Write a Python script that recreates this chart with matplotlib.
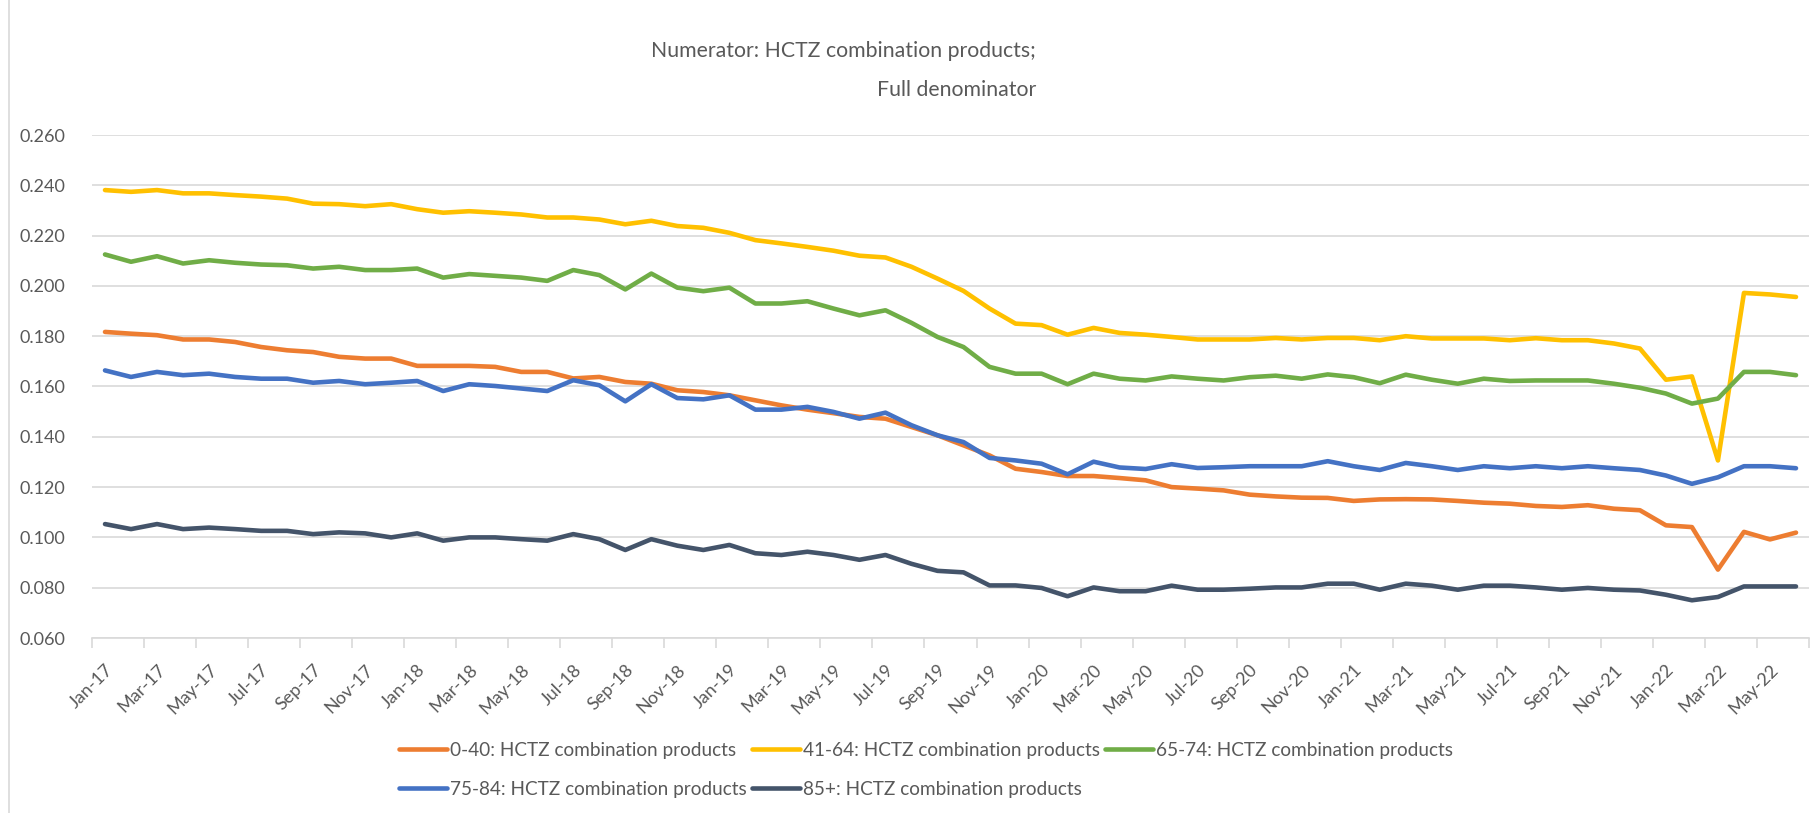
import numpy as np
import matplotlib
matplotlib.use("Agg")
import matplotlib.pyplot as plt
from matplotlib.lines import Line2D

plt.rcParams['font.family'] = ['Lato', 'DejaVu Sans']

# months Jan-17 .. Jun-22
months = ['Jan-17', 'Feb-17', 'Mar-17', 'Apr-17', 'May-17', 'Jun-17', 'Jul-17', 'Aug-17',
          'Sep-17', 'Oct-17', 'Nov-17', 'Dec-17',
          'Jan-18', 'Feb-18', 'Mar-18', 'Apr-18', 'May-18', 'Jun-18', 'Jul-18', 'Aug-18',
          'Sep-18', 'Oct-18', 'Nov-18', 'Dec-18',
          'Jan-19', 'Feb-19', 'Mar-19', 'Apr-19', 'May-19', 'Jun-19', 'Jul-19', 'Aug-19',
          'Sep-19', 'Oct-19', 'Nov-19', 'Dec-19',
          'Jan-20', 'Feb-20', 'Mar-20', 'Apr-20', 'May-20', 'Jun-20', 'Jul-20', 'Aug-20',
          'Sep-20', 'Oct-20', 'Nov-20', 'Dec-20',
          'Jan-21', 'Feb-21', 'Mar-21', 'Apr-21', 'May-21', 'Jun-21', 'Jul-21', 'Aug-21',
          'Sep-21', 'Oct-21', 'Nov-21', 'Dec-21',
          'Jan-22', 'Feb-22', 'Mar-22', 'Apr-22', 'May-22', 'Jun-22']

age_0_40 = [0.1817, 0.1810, 0.1804, 0.1787, 0.1787, 0.1777, 0.1757, 0.1744, 0.1737, 0.1718,
            0.1711, 0.1711, 0.1682, 0.1682, 0.1682, 0.1678, 0.1658, 0.1658, 0.1632, 0.1638,
            0.1618, 0.1611, 0.1585, 0.1578, 0.1565, 0.1545, 0.1525, 0.1508, 0.1494, 0.1479,
            0.1472, 0.1439, 0.1406, 0.1366, 0.1326, 0.1273, 0.1260, 0.1244, 0.1244, 0.1236,
            0.1227, 0.1200, 0.1194, 0.1187, 0.1170, 0.1163, 0.1158, 0.1157, 0.1145, 0.1151,
            0.1152, 0.1151, 0.1145, 0.1138, 0.1134, 0.1125, 0.1121, 0.1128, 0.1114, 0.1108,
            0.1048, 0.1041, 0.0872, 0.1022, 0.0992, 0.1019]

age_41_64 = [0.2381, 0.2374, 0.2381, 0.2368, 0.2368, 0.2361, 0.2355, 0.2347, 0.2327, 0.2325,
             0.2317, 0.2325, 0.2305, 0.2291, 0.2297, 0.2291, 0.2284, 0.2272, 0.2272, 0.2264,
             0.2245, 0.2259, 0.2238, 0.2231, 0.2211, 0.2182, 0.2169, 0.2155, 0.2140, 0.2120,
             0.2113, 0.2076, 0.2029, 0.1980, 0.1910, 0.1850, 0.1844, 0.1806, 0.1833, 0.1813,
             0.1806, 0.1797, 0.1787, 0.1787, 0.1787, 0.1793, 0.1787, 0.1793, 0.1793, 0.1784,
             0.1800, 0.1791, 0.1791, 0.1791, 0.1784, 0.1792, 0.1784, 0.1784, 0.1771, 0.1751,
             0.1627, 0.1640, 0.1306, 0.1972, 0.1966, 0.1956]

age_65_74 = [0.2125, 0.2096, 0.2118, 0.2089, 0.2102, 0.2092, 0.2085, 0.2082, 0.2069, 0.2076,
             0.2063, 0.2063, 0.2069, 0.2033, 0.2047, 0.2040, 0.2033, 0.2020, 0.2063, 0.2043,
             0.1986, 0.2049, 0.1993, 0.1979, 0.1993, 0.1930, 0.1930, 0.1939, 0.1910, 0.1883,
             0.1903, 0.1853, 0.1797, 0.1757, 0.1678, 0.1651, 0.1651, 0.1609, 0.1651, 0.1631,
             0.1624, 0.1640, 0.1631, 0.1624, 0.1637, 0.1643, 0.1631, 0.1648, 0.1637, 0.1613,
             0.1647, 0.1627, 0.1611, 0.1631, 0.1622, 0.1624, 0.1624, 0.1624, 0.1611, 0.1595,
             0.1572, 0.1532, 0.1552, 0.1658, 0.1658, 0.1645]

age_75_84 = [0.1664, 0.1638, 0.1658, 0.1645, 0.1651, 0.1638, 0.1631, 0.1631, 0.1615, 0.1622,
             0.1609, 0.1615, 0.1622, 0.1582, 0.1609, 0.1602, 0.1592, 0.1582, 0.1625, 0.1605,
             0.1541, 0.1609, 0.1554, 0.1549, 0.1565, 0.1508, 0.1508, 0.1519, 0.1499, 0.1472,
             0.1496, 0.1446, 0.1406, 0.1379, 0.1316, 0.1306, 0.1293, 0.1251, 0.1301, 0.1278,
             0.1272, 0.1291, 0.1276, 0.1279, 0.1283, 0.1283, 0.1283, 0.1303, 0.1283, 0.1268,
             0.1296, 0.1283, 0.1268, 0.1283, 0.1275, 0.1283, 0.1275, 0.1283, 0.1275, 0.1268,
             0.1246, 0.1213, 0.1239, 0.1283, 0.1283, 0.1275]

age_85_plus = [0.1053, 0.1033, 0.1053, 0.1033, 0.1039, 0.1033, 0.1026, 0.1026, 0.1013, 0.1020,
               0.1016, 0.1000, 0.1016, 0.0987, 0.1000, 0.1000, 0.0993, 0.0987, 0.1013, 0.0993,
               0.0950, 0.0993, 0.0967, 0.0950, 0.0970, 0.0937, 0.0930, 0.0943, 0.0930, 0.0911,
               0.0930, 0.0895, 0.0867, 0.0861, 0.0809, 0.0809, 0.0799, 0.0766, 0.0801, 0.0786,
               0.0786, 0.0808, 0.0792, 0.0792, 0.0796, 0.0801, 0.0801, 0.0816, 0.0816, 0.0792,
               0.0816, 0.0808, 0.0792, 0.0808, 0.0808, 0.0801, 0.0792, 0.0799, 0.0792, 0.0789,
               0.0772, 0.0750, 0.0763, 0.0805, 0.0805, 0.0805]

series_names = ['0-40: HCTZ combination products', '41-64: HCTZ combination products',
                '65-74: HCTZ combination products', '75-84: HCTZ combination products',
                '85+: HCTZ combination products']
colors = ['#ED7D31', '#FFC000', '#70AD47', '#4472C4', '#44546A']
y_ticks = [0.060, 0.080, 0.100, 0.120, 0.140, 0.160, 0.180, 0.200, 0.220, 0.240, 0.260]

text_color = '#595959'
grid_color = '#D9D9D9'

W, H = 1819, 813
fig = plt.figure(figsize=(W / 100, H / 100), dpi=100)
ax = fig.add_axes([92 / W, 1 - 638 / H, (1809 - 92) / W, (638 - 135) / H])

x = np.arange(len(months))
handles = []
for vals, name, c in zip([age_0_40, age_41_64, age_65_74, age_75_84, age_85_plus],
                         series_names, colors):
    h, = ax.plot(x, vals, color=c, lw=3.3, label=name, solid_capstyle='round',
                 solid_joinstyle='round')
    handles.append(h)

ax.set_xlim(-0.5, len(months) - 0.5)
ax.set_ylim(0.06, 0.26)
ax.set_yticks(y_ticks)
ax.set_yticklabels([f'{v:.3f}' for v in y_ticks])
ax.yaxis.grid(True, color=grid_color, lw=1.2)
ax.set_axisbelow(True)

ax.set_xticks(x[::2])
ax.set_xticklabels(months[::2], rotation=45, ha='right', rotation_mode='anchor')
ax.set_xticks(np.arange(-0.5, len(months), 2), minor=True)
ax.tick_params(axis='x', which='major', length=0, pad=17, labelsize=13, labelcolor=text_color)
ax.tick_params(axis='x', which='minor', length=7, color=grid_color, width=1.2)
ax.tick_params(axis='y', length=0, pad=19, labelsize=13, labelcolor=text_color)

for s in ['top', 'right', 'left']:
    ax.spines[s].set_visible(False)
ax.spines['bottom'].set_color(grid_color)
ax.spines['bottom'].set_linewidth(1.2)

# title: two lines, right edges aligned
fig.text(1036 / W, 1 - 57 / H, 'Numerator: HCTZ combination products;',
         ha='right', va='baseline', fontsize=15.3, color=text_color)
fig.text(1036 / W, 1 - 96 / H, 'Full denominator',
         ha='right', va='baseline', fontsize=15.3, color=text_color)

# legend laid out row by row like the original
order = [0, 3, 1, 4, 2]
fig.legend([handles[i] for i in order], [series_names[i] for i in order],
           ncol=3, loc='center', bbox_to_anchor=(926 / W, 1 - 770 / H),
           frameon=False, fontsize=13.7, labelcolor=text_color, handlelength=2.5,
           handletextpad=0.15, columnspacing=0.3, labelspacing=1.15)

# chart area border on the left
fig.add_artist(Line2D([9 / W, 9 / W], [0, 1], color=grid_color, lw=1.2,
                      transform=fig.transFigure))

fig.savefig('out.png', dpi=100)
